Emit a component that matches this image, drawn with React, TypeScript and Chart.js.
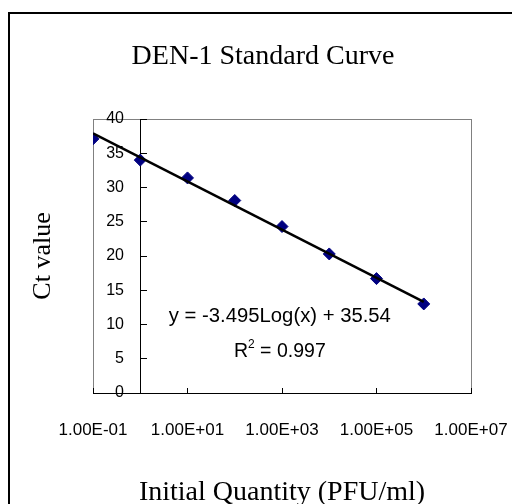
import React, { useEffect, useRef } from 'react';
import { Chart, registerables } from 'chart.js';

Chart.register(...registerables);

// ---- data ----
const xValues = [0.1, 1, 10, 100, 1000, 10000, 100000, 1000000];
const ctValues = [37.1, 34.0, 31.4, 28.1, 24.3, 20.3, 16.7, 13.0];
const trendX = [0.1, 1000000];
const trendY = [37.9, 13.3];
const xTickValues = [0.1, 10, 1000, 100000, 10000000];
const xTickLabels = ['1.00E-01', '1.00E+01', '1.00E+03', '1.00E+05', '1.00E+07'];
const yMin = 0;
const yMax = 40;
const yStep = 5;
const chartTitle = 'DEN-1 Standard Curve';
const xTitle = 'Initial Quantity (PFU/ml)';
const yTitle = 'Ct value';
const equationText = 'y = -3.495Log(x) + 35.54';
const r2Value = '0.997';

// text anchors (in data units)
const eqAnchorX = 900;
const eqAnchorY = 11.2;
const r2AnchorY = 6.0;

const SANS = '"Liberation Sans", Arial, sans-serif';
const SERIF = '"Liberation Serif", "Times New Roman", serif';

export default function App() {
  const ref = useRef<HTMLCanvasElement>(null);

  useEffect(() => {
    const frame = {
      id: 'plotFrame',
      beforeDraw(chart: any) {
        const { ctx, chartArea: a } = chart;
        ctx.save();
        ctx.strokeStyle = '#808080';
        ctx.lineWidth = 1;
        const l = Math.round(a.left) + 0.5;
        const t = Math.round(a.top) + 0.5;
        const r = Math.round(a.right) + 0.5;
        const b = Math.round(a.bottom) + 0.5;
        ctx.strokeRect(l, t, r - l, b - t);
        ctx.restore();
      },
    };

    const annot = {
      id: 'annot',
      afterDatasetsDraw(chart: any) {
        const { ctx } = chart;
        const xs = chart.scales.x;
        const ys = chart.scales.y;
        const px = xs.getPixelForValue(eqAnchorX);
        ctx.save();
        ctx.fillStyle = '#000';
        ctx.textBaseline = 'middle';
        ctx.textAlign = 'center';
        ctx.font = `20.3px ${SANS}`;
        ctx.fillText(equationText, px, ys.getPixelForValue(eqAnchorY));
        const big = `19.5px ${SANS}`;
        const small = `12px ${SANS}`;
        const py = ys.getPixelForValue(r2AnchorY);
        const rest = ' = ' + r2Value;
        ctx.font = big;
        const wR = ctx.measureText('R').width;
        const wRest = ctx.measureText(rest).width;
        ctx.font = small;
        const w2 = ctx.measureText('2').width;
        let sx = px - (wR + w2 + wRest) / 2;
        ctx.textAlign = 'left';
        ctx.font = big;
        ctx.fillText('R', sx, py);
        sx += wR;
        ctx.font = small;
        ctx.fillText('2', sx, py - 7);
        sx += w2;
        ctx.font = big;
        ctx.fillText(rest, sx, py);
        ctx.restore();
      },
    };

    const chart = new Chart(ref.current as HTMLCanvasElement, {
      type: 'scatter',
      data: {
        datasets: [
          {
            label: 'Trend',
            data: trendX.map((x, i) => ({ x, y: trendY[i] })),
            showLine: true,
            borderColor: '#000000',
            borderWidth: 2.6,
            pointRadius: 0,
            pointHoverRadius: 0,
            fill: false,
            order: 0,
          },
          {
            label: 'Ct',
            data: xValues.map((x, i) => ({ x, y: ctValues[i] })),
            pointStyle: 'rectRot',
            pointRadius: 6,
            pointBackgroundColor: '#000080',
            pointBorderColor: '#000080',
            pointBorderWidth: 1,
            showLine: false,
            order: 1,
          },
        ],
      },
      options: {
        responsive: false,
        animation: false,
        devicePixelRatio: 1,
        layout: { padding: 0 },
        plugins: {
          legend: { display: false },
          tooltip: { enabled: false },
          title: {
            display: true,
            text: chartTitle,
            color: '#000',
            font: { family: SERIF, size: 28, weight: 'normal' },
            padding: { top: 26.2, bottom: 45.2 },
          },
        },
        scales: {
          x: {
            type: 'logarithmic',
            position: 'bottom',
            min: 0.1,
            max: 10000000,
            afterBuildTicks: (s: any) => {
              s.ticks = xTickValues.map((v) => ({ value: v }));
            },
            afterFit: (s: any) => {
              s.height = 121;
            },
            grid: {
              drawOnChartArea: false,
              drawTicks: true,
              tickLength: -5,
              color: '#000',
              lineWidth: 1,
            },
            border: { display: true, color: '#000', width: 1 },
            ticks: {
              autoSkip: false,
              maxRotation: 0,
              minRotation: 0,
              padding: 3,
              color: '#000',
              font: { family: SANS, size: 17, lineHeight: 4.588 },
              callback: (_v: any, i: number) => xTickLabels[i],
            },
            title: {
              display: true,
              text: xTitle,
              color: '#000',
              font: { family: SERIF, size: 28 },
              padding: { top: 0, bottom: 5 },
            },
          },
          y: {
            type: 'linear',
            position: 'left',
            min: yMin,
            max: yMax,
            afterFit: (s: any) => {
              s.width = 83;
            },
            grid: { display: false, drawTicks: false },
            border: { display: false },
            ticks: {
              stepSize: yStep,
              mirror: true,
              crossAlign: 'far',
              padding: 13.2,
              color: '#000',
              font: { family: SANS, size: 16 },
            },
            title: {
              display: true,
              text: yTitle,
              color: '#000',
              font: { family: SERIF, size: 26 },
              padding: { top: 17.4, bottom: 0 },
            },
          },
          yRight: {
            type: 'linear',
            axis: 'y',
            position: 'right',
            min: yMin,
            max: yMax,
            afterFit: (s: any) => {
              s.width = 45;
            },
            ticks: { display: false },
            grid: { display: false, drawTicks: false },
            border: { display: false },
          },
          yAxis: {
            type: 'linear',
            axis: 'y',
            position: { x: 1 },
            min: yMin,
            max: yMax,
            afterFit: (s: any) => {
              s.width = 0;
            },
            ticks: { display: false, stepSize: yStep },
            grid: {
              drawOnChartArea: false,
              drawTicks: true,
              tickLength: -7,
              color: '#000',
              lineWidth: 1,
            },
            border: { display: true, color: '#000', width: 1 },
          },
        },
      } as any,
      plugins: [frame, annot],
    });

    return () => chart.destroy();
  }, []);

  return (
    <div
      style={{
        marginTop: 4,
        width: 506,
        border: '2px solid #000',
        overflow: 'hidden',
        background: '#fff',
      }}
    >
      <canvas
        ref={ref}
        width={506}
        height={500}
        style={{ display: 'block', width: 506, height: 500 }}
      />
    </div>
  );
}
